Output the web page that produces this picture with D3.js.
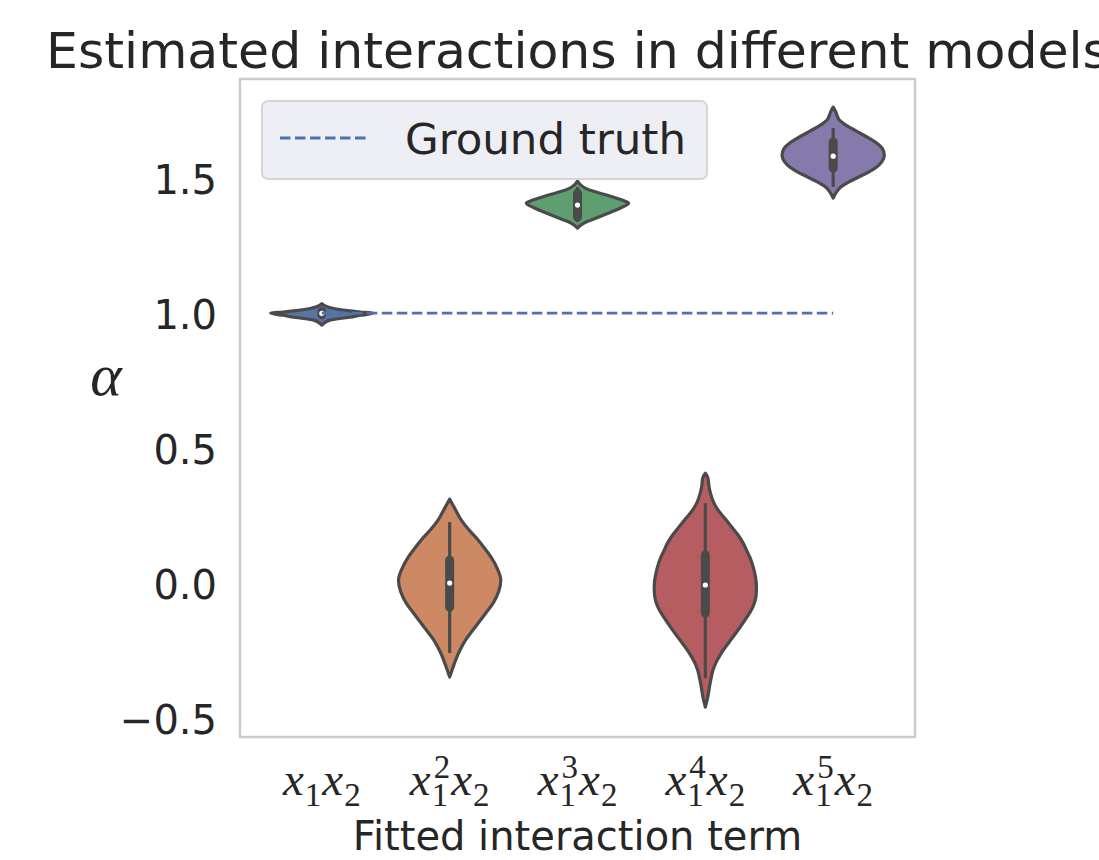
<!DOCTYPE html>
<html><head><meta charset="utf-8">
<script src="https://cdn.jsdelivr.net/npm/d3@7"></script>
<style>body{margin:0;background:#fff} svg{display:block}</style>
</head><body>
<svg id="chart" width="1099" height="860"></svg>
<script>
// ---------------- data ----------------
const categories = ["x1x2", "x1^2x2", "x1^3x2", "x1^4x2", "x1^5x2"];
const powers = ["", "2", "3", "4", "5"];
const groundTruth = 1.0;
const medians     = [0.999, 0.000, 1.400, -0.007, 1.581];
const q1          = [0.994, -0.089, 1.356, -0.111, 1.537];
const q3          = [1.005, 0.085, 1.444, 0.104, 1.634];
const whiskerLow  = [0.982, -0.259, 1.337, -0.352, 1.467];
const whiskerHigh = [1.018, 0.226, 1.467, 0.296, 1.685];
// density profiles: [value, relative half-width]
const densityX1X2 = [[0.956,0],[0.965,0.06],[0.974,0.16],[0.980,0.35],[0.986,0.6],[0.992,0.75],[0.999,1.0],[1.004,0.75],[1.008,0.55],[1.017,0.23],[1.025,0.08],[1.035,0]];
const densityX1sq = [[-0.348,0],[-0.31,0.07],[-0.274,0.14],[-0.245,0.21],[-0.211,0.31],[-0.18,0.43],[-0.148,0.56],[-0.11,0.71],[-0.074,0.85],[-0.03,0.96],[0.011,1.0],[0.05,0.94],[0.096,0.81],[0.125,0.70],[0.159,0.56],[0.19,0.41],[0.222,0.27],[0.245,0.19],[0.27,0.12],[0.29,0.06],[0.311,0]];
const densityX1cu = [[1.315,0],[1.328,0.08],[1.34,0.2],[1.352,0.37],[1.362,0.5],[1.375,0.67],[1.39,0.85],[1.407,1.0],[1.415,0.92],[1.426,0.75],[1.438,0.55],[1.45,0.33],[1.462,0.16],[1.475,0.06],[1.489,0]];
const densityX1p4 = [[-0.459,0],[-0.42,0.05],[-0.385,0.08],[-0.355,0.11],[-0.322,0.15],[-0.29,0.22],[-0.26,0.31],[-0.22,0.46],[-0.174,0.64],[-0.13,0.8],[-0.088,0.93],[-0.05,0.99],[-0.015,1.0],[0.05,0.95],[0.096,0.87],[0.12,0.81],[0.148,0.74],[0.178,0.64],[0.207,0.52],[0.24,0.38],[0.27,0.25],[0.30,0.16],[0.333,0.1],[0.36,0.07],[0.39,0.05],[0.407,0]];
const densityX1p5 = [[1.426,0],[1.45,0.07],[1.467,0.15],[1.485,0.3],[1.504,0.5],[1.523,0.7],[1.541,0.85],[1.56,0.95],[1.585,1.0],[1.61,0.96],[1.63,0.85],[1.648,0.7],[1.667,0.52],[1.685,0.35],[1.70,0.22],[1.715,0.12],[1.73,0.08],[1.745,0.05],[1.763,0]];
const densities = [densityX1X2, densityX1sq, densityX1cu, densityX1p4, densityX1p5];
const yTicks = [-0.5, 0.0, 0.5, 1.0, 1.5];
const fillColors = ["#5975a4", "#cc8963", "#5f9e6e", "#b55d60", "#857aab"];
const lineColor = "#4c72b0";
const titleText = "Estimated interactions in different models";
const xLabelText = "Fitted interaction term";
const legendText = "Ground truth";

// ---------------- chart ----------------
const svg = d3.select("#chart");
const textColor = "#262626";
const gray = "#4a4a4a";
const sans = "'DejaVu Sans', sans-serif";
const serif = "'Liberation Serif', 'DejaVu Serif', serif";

const x = d3.scaleLinear().domain([-0.64, 4.64]).range([240, 915]);
const y = d3.scaleLinear().domain([-0.570, 1.867]).range([737, 79]);
const halfW = 0.4 * (x(1) - x(0));

// frame
svg.append("rect").attr("x", 240).attr("y", 79).attr("width", 675).attr("height", 658)
  .attr("fill", "#fff").attr("stroke", "#cccccc").attr("stroke-width", 2.5);

// violins
categories.forEach((c, i) => {
  const cx = x(i);
  const area = d3.area()
    .y(d => y(d[0]))
    .x0(d => cx - d[1] * halfW)
    .x1(d => cx + d[1] * halfW)
    .curve(d3.curveMonotoneY);
  svg.append("path").attr("d", area(densities[i]))
    .attr("fill", fillColors[i]).attr("stroke", gray)
    .attr("stroke-width", 3.2).attr("stroke-linejoin", "round");
  // whisker
  svg.append("line").attr("x1", cx).attr("x2", cx)
    .attr("y1", y(whiskerLow[i])).attr("y2", y(whiskerHigh[i]))
    .attr("stroke", gray).attr("stroke-width", 3.2);
  // box
  svg.append("line").attr("x1", cx).attr("x2", cx)
    .attr("y1", y(q1[i])).attr("y2", y(q3[i]))
    .attr("stroke", gray).attr("stroke-width", 9).attr("stroke-linecap", "round");
  // median
  svg.append("circle").attr("cx", cx).attr("cy", y(medians[i])).attr("r", 2.6)
    .attr("fill", "#fff");
});

// ground truth dashed line
svg.append("line").attr("x1", x(0)).attr("x2", x(4))
  .attr("y1", y(groundTruth)).attr("y2", y(groundTruth))
  .attr("stroke", lineColor).attr("stroke-width", 2.8)
  .attr("stroke-dasharray", "10.5,4.5");

// y ticks
yTicks.forEach(t => {
  svg.append("text").attr("x", 217).attr("y", y(t) + 16)
    .attr("text-anchor", "end").attr("font-family", sans).attr("font-size", 40)
    .attr("fill", textColor).text(d3.format(".1f")(t));
});

// y label alpha
svg.append("text").attr("x", 106).attr("y", 395).attr("text-anchor", "middle")
  .attr("font-family", serif).attr("font-style", "italic").attr("font-size", 60)
  .attr("fill", textColor).text("α");

// x tick labels (math)
const fs = 47, sfs = 33;
categories.forEach((c, i) => {
  const g = svg.append("g");
  let cur = 0;
  const addT = (txt, size, italic, base) => {
    const t = g.append("text").attr("x", cur).attr("y", base)
      .attr("font-family", serif).attr("font-size", size)
      .attr("font-style", italic ? "italic" : "normal")
      .attr("fill", textColor).text(txt);
    return t.node().getComputedTextLength();
  };
  cur += addT("x", fs, true, 795) + 1;
  const start = cur;
  let w1 = addT("1", sfs, false, 806);
  let w2 = 0;
  if (powers[i]) { cur = start + 2; w2 = addT(powers[i], sfs, false, 778) + 2; }
  cur = start + Math.max(w1, w2) + 1;
  cur += addT("x", fs, true, 795) + 1;
  cur += addT("2", sfs, false, 806);
  g.attr("transform", `translate(${x(i) - cur / 2},0)`);
});

// x label
svg.append("text").attr("x", 577.5).attr("y", 850).attr("text-anchor", "middle")
  .attr("font-family", sans).attr("font-size", 40).attr("fill", textColor).text(xLabelText);

// title
svg.append("text").attr("x", 577.5).attr("y", 68).attr("text-anchor", "middle")
  .attr("font-family", sans).attr("font-size", 50.5).attr("fill", textColor).text(titleText);

// legend
svg.append("rect").attr("x", 262).attr("y", 101).attr("width", 445).attr("height", 78)
  .attr("rx", 6).attr("fill", "#eeeef5").attr("stroke", "#d6d6d6").attr("stroke-width", 2);
svg.append("line").attr("x1", 280).attr("x2", 370).attr("y1", 138).attr("y2", 138)
  .attr("stroke", lineColor).attr("stroke-width", 2.8).attr("stroke-dasharray", "10.5,4.5");
svg.append("text").attr("x", 405).attr("y", 154).attr("font-family", sans)
  .attr("font-size", 43.5).attr("fill", textColor).text(legendText);
</script>
</body></html>
